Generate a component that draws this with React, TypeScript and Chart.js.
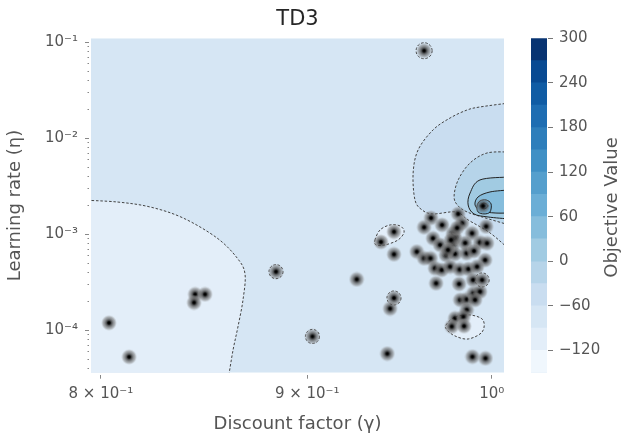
import React, { useEffect, useRef } from 'react';
import { Chart, registerables } from 'chart.js';

Chart.register(...registerables);

// ---------------- data ----------------
const gammaValues = [
  0.8037, 0.8130, 0.8442, 0.8490, 0.8437, 0.8841, 0.9027, 0.9258, 0.9421, 0.9457, 0.9387, 0.9457, 0.9457, 0.9436, 0.9621, 0.9950, 0.9890, 0.9964,
  0.9659, 0.9810, 0.9621, 0.9720, 0.9832, 0.9968, 0.9781, 0.9888, 0.9670, 0.9709, 0.9781, 0.9849, 0.9933, 0.9973, 0.9581, 0.9621, 0.9656, 0.9742,
  0.9792, 0.9857, 0.9899, 0.9962, 0.9681, 0.9718, 0.9765, 0.9818, 0.9867, 0.9916, 0.9687, 0.9815, 0.9894, 0.9945, 0.9821, 0.9858, 0.9896, 0.9933,
  0.9905, 0.9858, 0.9792, 0.9839, 0.9774, 0.9843, 0.9792, 0.9770, 0.9804, 0.9753,
];
const etaValues = [
  0.000120, 0.0000530, 0.000238, 0.000238, 0.000195, 0.000410, 0.0000866, 0.000341, 0.0000573, 0.001069, 0.000836, 0.000622, 0.000218, 0.000169, 0.0821, 0.00198, 0.0000533, 0.0000513,
  0.001486, 0.001637, 0.001189, 0.001256, 0.001309, 0.001211, 0.001029, 0.001029, 0.000912, 0.000778, 0.000796, 0.000816, 0.000826, 0.000809, 0.000662, 0.000565, 0.000565, 0.000611,
  0.000627, 0.000637, 0.000673, 0.000542, 0.000445, 0.000427, 0.000462, 0.000432, 0.000437, 0.000462, 0.000310, 0.000305, 0.000336, 0.000336, 0.000208, 0.000211, 0.000244, 0.000254,
  0.000208, 0.000164, 0.000134, 0.000139, 0.000110, 0.000111, 0.000920, 0.000877, 0.001170, 0.000691,
];

const X_MIN = 0.7955;
const X_MAX = 1.007;
const Y_MIN = 3.63e-5;
const Y_MAX = 0.1106;

const xTickValues = [0.8, 0.9, 1.0];
const xTickLabels = ['8 × 10⁻¹', '9 × 10⁻¹', '10⁰'];
const yMajorTicks = [1e-4, 1e-3, 1e-2, 1e-1];
const yTickLabels = ['10⁻⁴', '10⁻³', '10⁻²', '10⁻¹'];

// contour levels and colours (Blues)
const levelEdges = [-150, -120, -90, -60, -30, 0, 30, 60, 90, 120, 150, 180, 210, 240, 270, 300];
const bandColors = [
  'rgb(240,247,253)', 'rgb(227,238,249)', 'rgb(214,230,244)', 'rgb(201,221,240)', 'rgb(182,212,233)',
  'rgb(161,203,226)', 'rgb(134,189,220)', 'rgb(107,174,214)', 'rgb(85,159,205)', 'rgb(64,144,197)',
  'rgb(46,126,187)', 'rgb(30,109,178)', 'rgb(16,92,164)', 'rgb(8,74,146)', 'rgb(8,52,114)',
];
const cbTicks = [-120, -60, 0, 60, 120, 180, 240, 300];

// contour paths in data space [gamma, eta]
const contourLeft: number[][] = [
  [0.79, 0.002287], [0.8074, 0.00218], [0.8228, 0.001934], [0.8384, 0.001486], [0.8548, 0.00092],
  [0.8647, 0.000569], [0.8686, 0.000388], [0.8676, 0.000208], [0.8651, 0.000109], [0.8627, 0.0000627], [0.8607, 0.000035],
];
const contourLeftCorner: number[][] = [[0.79, 0.000035]];
const contourOuter: number[][] = [
  [1.01, 0.02344], [0.9933, 0.0213], [0.986, 0.01981], [0.9765, 0.01636], [0.967, 0.01227], [0.9588, 0.00759],
  [0.9561, 0.00437], [0.9571, 0.002287], [0.961, 0.0018], [0.967, 0.001636], [0.9798, 0.001716], [0.9866, 0.001416],
  [0.999, 0.001037], [1.01, 0.0007],
];
const contourSecond: number[][] = [
  [1.01, 0.007234], [0.9973, 0.00706], [0.9877, 0.00556], [0.981, 0.0037], [0.9787, 0.00246], [0.981, 0.001982],
  [0.986, 0.001716], [0.9945, 0.001521], [1.01, 0.001256],
];
const contourZero: number[][] = [
  [1.01, 0.003972], [0.9933, 0.0037], [0.9877, 0.002704], [0.9866, 0.002029], [0.9899, 0.001636], [0.9979, 0.001521], [1.01, 0.00145],
];
const contourThirty: number[][] = [
  [1.01, 0.002911], [0.999, 0.002773], [0.9922, 0.00246], [0.9905, 0.002029], [0.9939, 0.001758], [1.0019, 0.001674], [1.01, 0.001674],
];
const contourSixty: number[][] = [
  [0.9916, 0.001982], [0.9933, 0.002233], [0.9968, 0.002287], [0.9996, 0.00208], [0.999, 0.001716], [0.9956, 0.001636], [0.9922, 0.001716],
];
const contourNinety: number[][] = [
  [0.9933, 0.001982], [0.9956, 0.002128], [0.9979, 0.001982], [0.9956, 0.001845],
];
const contourIsland1: number[][] = [
  [0.9355, 0.000877], [0.9382, 0.001114], [0.9436, 0.001256], [0.949, 0.001227], [0.9512, 0.001062], [0.9479, 0.000877], [0.9409, 0.000778], [0.9361, 0.000778],
];
const contourIsland2: number[][] = [
  [0.9742, 0.000114], [0.9792, 0.000138], [0.9877, 0.000145], [0.995, 0.0001285], [0.9945, 0.0000964], [0.9866, 0.0000815], [0.9792, 0.0000877], [0.9748, 0.000101],
];
const ringCenters: number[][] = [
  [0.9621, 0.0821], [0.9027, 0.0000866], [0.9457, 0.000218], [0.8841, 0.00041], [0.9945, 0.000336],
];

const contours = [
  { pts: contourLeft, corner: contourLeftCorner, band: 1, dashed: true, closed: false },
  { pts: contourOuter, corner: [], band: 3, dashed: true, closed: false },
  { pts: contourSecond, corner: [], band: 4, dashed: true, closed: false },
  { pts: contourZero, corner: [], band: 5, dashed: false, closed: false },
  { pts: contourThirty, corner: [], band: 6, dashed: false, closed: false },
  { pts: contourSixty, corner: [], band: 7, dashed: false, closed: true },
  { pts: contourNinety, corner: [], band: 8, dashed: false, closed: true },
  { pts: contourIsland1, corner: [], band: 1, dashed: true, closed: true },
  { pts: contourIsland2, corner: [], band: 1, dashed: true, closed: true },
];

const FONT = 'DejaVu Sans';
const TEXT = '#555555';

function tracePath(ctx: CanvasRenderingContext2D, p: number[][], closed: boolean) {
  const n = p.length;
  ctx.moveTo(p[0][0], p[0][1]);
  const last = closed ? n : n - 1;
  for (let i = 0; i < last; i++) {
    const get = (k: number) => (closed ? p[(k + n) % n] : p[Math.max(0, Math.min(n - 1, k))]);
    const p0 = get(i - 1), p1 = get(i), p2 = get(i + 1), p3 = get(i + 2);
    const c1x = p1[0] + (p2[0] - p0[0]) / 6, c1y = p1[1] + (p2[1] - p0[1]) / 6;
    const c2x = p2[0] - (p3[0] - p1[0]) / 6, c2y = p2[1] - (p3[1] - p1[1]) / 6;
    ctx.bezierCurveTo(c1x, c1y, c2x, c2y, p2[0], p2[1]);
  }
}

const contourPlugin = {
  id: 'contours',
  beforeDatasetsDraw(chart: any) {
    const { ctx, chartArea: a, scales } = chart;
    const xs = scales.x, ys = scales.y;
    const toPx = (v: number[]) => [xs.getPixelForValue(v[0]), ys.getPixelForValue(v[1])];
    ctx.save();
    ctx.beginPath();
    ctx.rect(a.left, a.top, a.right - a.left, a.bottom - a.top);
    ctx.clip();
    ctx.fillStyle = bandColors[2];
    ctx.fillRect(a.left, a.top, a.right - a.left, a.bottom - a.top);
    for (const c of contours) {
      const px = c.pts.map(toPx);
      ctx.beginPath();
      tracePath(ctx, px, c.closed);
      c.corner.forEach((v) => {
        const q = toPx(v);
        ctx.lineTo(q[0], q[1]);
      });
      ctx.closePath();
      ctx.fillStyle = bandColors[c.band];
      ctx.fill();
      ctx.beginPath();
      tracePath(ctx, px, c.closed);
      if (c.closed) ctx.closePath();
      ctx.setLineDash(c.dashed ? [2.5, 1.8] : []);
      ctx.lineWidth = 1;
      ctx.strokeStyle = c.dashed ? '#444' : '#222';
      ctx.stroke();
    }
    ctx.setLineDash([2.5, 1.8]);
    ctx.strokeStyle = '#444';
    ringCenters.forEach((v, i) => {
      const q = toPx(v);
      ctx.beginPath();
      ctx.arc(q[0], q[1], i === 0 ? 8 : 7, 0, Math.PI * 2);
      ctx.stroke();
    });
    ctx.restore();
  },
};

const cbTitlePlugin = {
  id: 'cbTitle',
  afterDraw(chart: any) {
    const { ctx, chartArea: a } = chart;
    ctx.save();
    ctx.translate(107, (a.top + a.bottom) / 2 + 2);
    ctx.rotate(-Math.PI / 2);
    ctx.font = `18px "${FONT}"`;
    ctx.fillStyle = TEXT;
    ctx.textAlign = 'center';
    ctx.textBaseline = 'middle';
    ctx.fillText('Objective Value', 0, 0);
    ctx.restore();
  },
};

function makeDot(): HTMLCanvasElement {
  const c = document.createElement('canvas');
  c.width = 16;
  c.height = 16;
  const g = c.getContext('2d')!;
  const grad = g.createRadialGradient(8, 8, 0, 8, 8, 8);
  grad.addColorStop(0, 'rgba(0,0,0,1)');
  grad.addColorStop(0.15, 'rgba(0,0,0,1)');
  grad.addColorStop(0.3, 'rgba(45,45,45,0.85)');
  grad.addColorStop(0.5, 'rgba(90,90,90,0.72)');
  grad.addColorStop(0.75, 'rgba(120,120,120,0.5)');
  grad.addColorStop(0.9, 'rgba(150,150,150,0.2)');
  grad.addColorStop(1, 'rgba(160,160,160,0)');
  g.fillStyle = grad;
  g.beginPath();
  g.arc(8, 8, 8, 0, Math.PI * 2);
  g.fill();
  return c;
}

export default function App() {
  const mainRef = useRef<HTMLCanvasElement>(null);
  const cbRef = useRef<HTMLCanvasElement>(null);

  useEffect(() => {
    Chart.defaults.font.family = FONT;
    const dot = makeDot();
    const yTicks: { value: number; major: boolean }[] = [];
    for (let k = -5; k <= -1; k++) {
      for (let m = 1; m <= 9; m++) {
        const v = m * Math.pow(10, k);
        if (v >= Y_MIN && v <= Y_MAX) yTicks.push({ value: v, major: m === 1 });
      }
    }
    const findLabel = (v: number, vals: number[], labels: string[]) => {
      const i = vals.findIndex((t) => Math.abs(Math.log10(t) - Math.log10(v)) < 1e-6);
      return i >= 0 ? labels[i] : '';
    };

    const main = new Chart(mainRef.current!, {
      type: 'scatter',
      data: {
        datasets: [
          {
            data: gammaValues.map((g, i) => ({ x: g, y: etaValues[i] })),
            pointStyle: dot as any,
            pointRadius: 7,
            pointHoverRadius: 7,
          },
        ],
      },
      options: {
        animation: false,
        responsive: false,
        layout: { padding: 0 },
        plugins: {
          legend: { display: false },
          tooltip: { enabled: false },
          title: {
            display: true,
            text: 'TD3',
            color: '#262626',
            font: { family: FONT, size: 21, weight: 'normal' },
            padding: { top: 7.4, bottom: 5.7 },
          },
        },
        scales: {
          x: {
            type: 'logarithmic',
            min: X_MIN,
            max: X_MAX,
            position: 'bottom',
            afterBuildTicks: (s: any) => {
              s.ticks = xTickValues.map((v) => ({ value: v, major: true }));
            },
            afterFit: (s: any) => {
              s.height = 65.3;
            },
            ticks: {
              autoSkip: false,
              maxRotation: 0,
              padding: 6,
              color: TEXT,
              font: { family: FONT, size: 15 },
              callback: (v: any) => findLabel(Number(v), xTickValues, xTickLabels),
            },
            grid: {
              drawOnChartArea: false,
              drawTicks: true,
              tickLength: 6,
              tickColor: '#888',
              tickWidth: 1,
              tickBorderDash: [0, 2, 4, 100],
            },
            border: { display: false },
            title: {
              display: true,
              text: 'Discount factor (γ)',
              color: TEXT,
              font: { family: FONT, size: 18 },
              padding: { top: 0, bottom: 3 },
            },
          },
          y: {
            type: 'logarithmic',
            min: Y_MIN,
            max: Y_MAX,
            position: 'left',
            afterBuildTicks: (s: any) => {
              s.ticks = yTicks.map((t) => ({ ...t }));
            },
            afterFit: (s: any) => {
              s.width = 91;
            },
            ticks: {
              autoSkip: false,
              padding: 7,
              color: TEXT,
              font: { family: FONT, size: 15 },
              callback: (v: any) => findLabel(Number(v), yMajorTicks, yTickLabels),
            },
            grid: {
              drawOnChartArea: false,
              drawTicks: true,
              tickLength: 6,
              tickColor: '#888',
              tickWidth: 1,
              tickBorderDash: (ctx: any) => (ctx.tick && ctx.tick.major ? [4, 100] : [0, 2.5, 1.5, 100]),
            },
            border: { display: false },
            title: {
              display: true,
              text: 'Learning rate (η)',
              color: TEXT,
              font: { family: FONT, size: 18 },
              padding: { top: 5, bottom: 0 },
            },
          },
          yr: {
            type: 'linear',
            position: 'right',
            display: true,
            ticks: { display: false },
            grid: { display: false },
            border: { display: false },
            afterFit: (s: any) => {
              s.width = 91;
            },
          },
        },
      } as any,
      plugins: [contourPlugin],
    });

    // each band bar runs from the lowest level up to its upper edge; lower bands
    // are drawn on top (dataset 0 is painted last), so no seams appear between bands
    const cb = new Chart(cbRef.current!, {
      type: 'bar',
      data: {
        labels: [''],
        datasets: levelEdges.slice(1).map((hi, i) => ({
          data: [[levelEdges[0], hi]] as any,
          backgroundColor: bandColors[i],
          borderWidth: 0,
          barPercentage: 1,
          categoryPercentage: 1,
          grouped: false,
        })),
      },
      options: {
        animation: false,
        responsive: false,
        layout: { padding: { left: 26, top: 38.3, bottom: 65.3, right: 0 } },
        plugins: { legend: { display: false }, tooltip: { enabled: false } },
        scales: {
          x: { display: false },
          y: {
            position: 'right',
            min: -150,
            max: 300,
            afterBuildTicks: (s: any) => {
              s.ticks = cbTicks.map((v) => ({ value: v }));
            },
            afterFit: (s: any) => {
              s.width = 76;
            },
            ticks: {
              padding: 6,
              color: TEXT,
              font: { family: FONT, size: 15 },
              callback: (v: any) => (Number(v) < 0 ? '−' + Math.abs(Number(v)) : String(v)),
            },
            grid: { drawOnChartArea: false, tickLength: 6, tickColor: '#777', tickWidth: 1, tickBorderDash: [0, 1, 5, 100] },
            border: { display: false },
          },
        },
      } as any,
      plugins: [cbTitlePlugin],
    });

    return () => {
      main.destroy();
      cb.destroy();
    };
  }, []);

  return (
    <div style={{ position: 'fixed', left: 0, top: 0, width: 623, height: 438, background: '#fff' }}>
      <canvas ref={mainRef} width={595} height={438} style={{ position: 'absolute', left: 0, top: 0, width: 595, height: 438 }} />
      <canvas ref={cbRef} width={118} height={438} style={{ position: 'absolute', left: 505, top: 0, width: 118, height: 438 }} />
    </div>
  );
}
